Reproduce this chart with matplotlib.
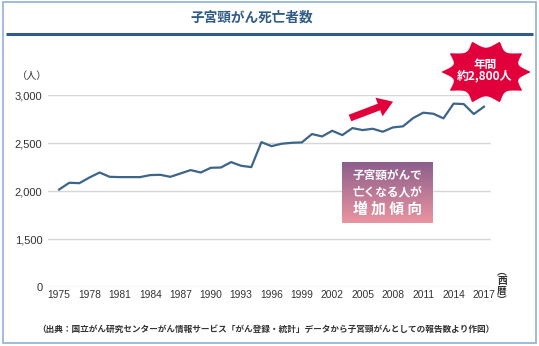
import numpy as np
import matplotlib
matplotlib.use("Agg")
import matplotlib.pyplot as plt
from matplotlib import patches
from matplotlib.ticker import FixedLocator, FuncFormatter

plt.rcParams["font.family"] = ["Noto Sans CJK JP", "DejaVu Sans"]

# 子宮頸がん死亡者数 (1975-2017)
years = list(range(1975, 2018))
deaths = [2017, 2087, 2083, 2142, 2194, 2149, 2146, 2146, 2146, 2167,
          2170, 2149, 2184, 2219, 2194, 2243, 2246, 2302, 2264, 2250,
          2510, 2468, 2493, 2503, 2507, 2594, 2569, 2628, 2583, 2656,
          2635, 2649, 2618, 2663, 2674, 2760, 2816, 2805, 2757, 2910,
          2906, 2802, 2878]
yticks = [0, 1500, 2000, 2500, 3000]
xticks = list(range(1975, 2018, 3))

W, H = 539, 346
LINE = "#3d6489"
RED = "#e2003c"
NAVY = "#2f5b86"
NUMFONT = ["Liberation Sans", "Noto Sans CJK JP"]


def fwd(v):
    v = np.asarray(v, dtype=float)
    return np.where(v < 1500, v / 1500, 1 + (v - 1500) / 500)


def inv(u):
    u = np.asarray(u, dtype=float)
    return np.where(u < 1, u * 1500, 1500 + (u - 1) * 500)


fig = plt.figure(figsize=(W / 100, H / 100), dpi=100)
fig.set_facecolor("white")

# main chart, broken scale between 0 and 1500
ax = fig.add_axes([48 / W, (H - 287.3) / H, 443 / W, 192.3 / H])
ax.set_yscale("function", functions=(fwd, inv))
ax.plot(years, deaths, color=LINE, lw=1.6, zorder=3, solid_joinstyle="round")
ax.set_xlim(1973.9, 2017.7)
ax.set_ylim(0, 3000)
ax.yaxis.set_major_locator(FixedLocator(yticks))
ax.yaxis.set_minor_locator(FixedLocator([]))
ax.yaxis.set_major_formatter(FuncFormatter(lambda v, p: f"{int(round(v)):,}"))
ax.set_xticks(xticks)
ax.yaxis.grid(True, color="#d6d6d6", lw=1)
ax.set_axisbelow(True)
for s in ax.spines.values():
    s.set_visible(False)
ax.tick_params(axis="y", length=0, pad=4, labelsize=8, labelcolor="#333333")
ax.tick_params(axis="x", length=0, pad=2, labelsize=7.4, labelcolor="#333333")
for lab in ax.get_xticklabels() + ax.get_yticklabels():
    lab.set_family(NUMFONT)
ax.set_facecolor("none")

# overlay in pixel coordinates for frame and decorations
ov = fig.add_axes([0, 0, 1, 1], zorder=5)
ov.axis("off")
ov.patch.set_alpha(0)

ov.add_patch(patches.Rectangle((3, 2), 533, 341, fill=False,
                               edgecolor="#8fb0d6", lw=1.2))
ov.text(252, 18, "子宮頸がん死亡者数", ha="center", va="center",
        fontsize=9.8, fontweight="bold", color=NAVY)
ov.plot([6, 533], [34, 34], color=NAVY, lw=2.2, solid_capstyle="butt")

ov.text(32, 76, "（人）", ha="center", va="center", fontsize=7.3,
        color="#333333")
ov.text(502, 286, "︵\n西\n暦\n︶", ha="center", va="center", fontsize=7,
        linespacing=0.95, color="#333333", fontweight="bold")

ov.text(37, 329, "（出典：国立がん研究センターがん情報サービス「がん登録・統計」"
        "データから子宮頸がんとしての報告数より作図）",
        ha="left", va="center", fontsize=6.25, color="#333333",
        fontweight="bold")

# gradient label box
grad = np.linspace(0, 1, 64)[:, None, None]
top = np.array([0.55, 0.37, 0.55])
bot = np.array([0.92, 0.58, 0.63])
img = top * (1 - grad) + bot * grad
ov.imshow(img, extent=(342, 433, 223, 162), aspect="auto", zorder=2)
ov.text(387.5, 175, "子宮頸がんで", ha="center", va="center", fontsize=8.4,
        fontweight="bold", color="white", zorder=3)
ov.text(387.5, 191.5, "亡くなる人が", ha="center", va="center", fontsize=8.4,
        fontweight="bold", color="white", zorder=3)
ov.text(387.5, 208.5, "増 加 傾 向", ha="center", va="center", fontsize=10.6,
        fontweight="bold", color="white", zorder=3)

# trend arrow
ov.add_patch(patches.FancyArrow(350, 118, 29, -11, width=7, head_width=20,
                                head_length=15, length_includes_head=False,
                                color=RED, lw=0))

# starburst callout
n = 10
th = np.linspace(0, 2 * np.pi, n * 24, endpoint=False) + 0.3
phase = (th * n / (2 * np.pi)) % 1
r = 0.76 + 0.24 * (np.abs(phase - 0.5) * 2) ** 2
xs = 486 + 45 * r * np.cos(th)
ys = 72 + 32 * r * np.sin(th)
ov.add_patch(patches.Polygon(np.column_stack([xs, ys]), closed=True,
                             facecolor=RED, edgecolor="none", zorder=4))
ov.text(485, 64.5, "年間", ha="center", va="center", fontsize=8.4,
        fontweight="bold", color="white", zorder=5)
ov.text(485, 76, "約2,800人", ha="center", va="center", fontsize=8.6,
        fontweight="bold", color="white", zorder=5)

ov.set_xlim(0, W)
ov.set_ylim(H, 0)

fig.savefig("out.png", dpi=100)
